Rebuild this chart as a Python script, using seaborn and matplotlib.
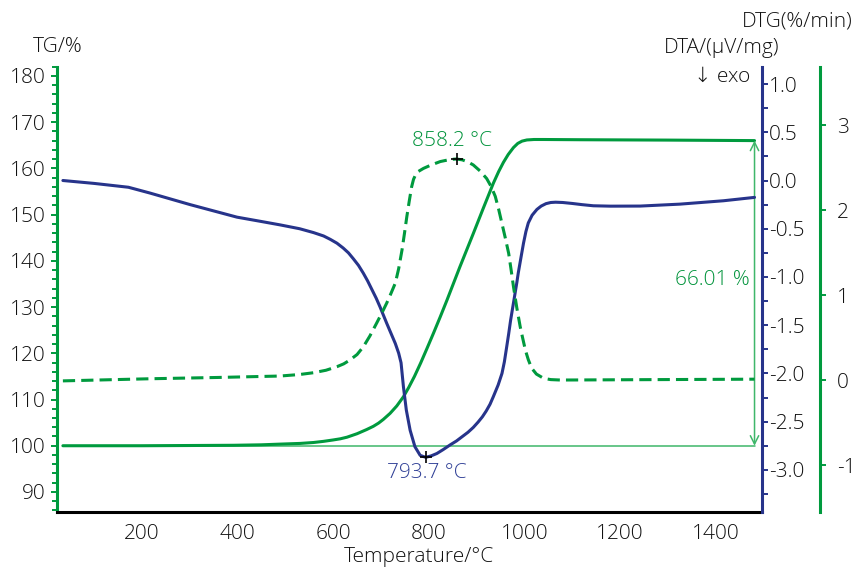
import numpy as np
import pandas as pd
import matplotlib
matplotlib.use("Agg")
import matplotlib.pyplot as plt
from matplotlib.ticker import MultipleLocator, FixedLocator, FormatStrFormatter
import seaborn as sns

# ---- measured curves -------------------------------------------------------
# TG (mass, %)
tg_temp = [35, 200, 300, 392, 450, 489, 531, 559, 580, 600, 615, 629, 650, 670,
           684, 695, 705, 719, 733, 747, 758, 770, 783, 796, 810, 824, 838, 865,
           893, 914, 935, 946, 956, 966, 977, 986, 995, 1005, 1020, 1040, 1116,
           1300, 1481]
tg_val = [100.0, 100.0, 100.05, 100.1, 100.2, 100.35, 100.5, 100.7, 100.95,
          101.25, 101.5, 101.85, 102.6, 103.5, 104.2, 104.9, 105.7, 107.0, 108.6,
          110.6, 112.6, 115.0, 117.9, 121.0, 124.4, 127.9, 131.5, 138.7, 145.9,
          151.4, 156.8, 159.3, 161.3, 163.0, 164.5, 165.4, 165.9, 166.15, 166.25,
          166.25, 166.2, 166.12, 166.01]

# DTA (µV/mg)
dta_temp = [35, 100, 172, 217, 301, 399, 450, 489, 530, 559, 580, 594, 608, 621,
            632, 642, 653, 663, 672, 681, 690, 698, 705, 712, 721, 730, 737, 742,
            747, 753, 761, 771, 782, 793.7, 805, 817, 830, 845, 858, 870, 882,
            893, 903, 912, 920, 928, 935, 945, 953, 958, 963, 967, 971, 976, 980,
            984, 987, 993, 998, 1003, 1008, 1016, 1026, 1035, 1045, 1055, 1065,
            1080, 1100, 1120, 1144, 1180, 1242, 1325, 1416, 1481]
dta_val = [0.00, -0.03, -0.07, -0.13, -0.25, -0.38, -0.425, -0.46, -0.50, -0.54,
           -0.575, -0.61, -0.65, -0.70, -0.75, -0.81, -0.88, -0.96, -1.04, -1.13,
           -1.22, -1.31, -1.395, -1.48, -1.585, -1.69, -1.79, -1.89, -2.14, -2.38,
           -2.59, -2.76, -2.85, -2.87, -2.855, -2.83, -2.79, -2.74, -2.70, -2.655,
           -2.61, -2.56, -2.505, -2.45, -2.39, -2.32, -2.24, -2.12, -2.00, -1.88,
           -1.72, -1.59, -1.45, -1.30, -1.18, -1.06, -0.96, -0.79, -0.65, -0.53,
           -0.44, -0.36, -0.30, -0.265, -0.24, -0.228, -0.225, -0.228, -0.238,
           -0.25, -0.262, -0.266, -0.265, -0.245, -0.21, -0.175]

# DTG (%/min)
dtg_temp = [35, 217, 357, 489, 530, 559, 585, 608, 622, 635, 650, 663, 677, 691,
            702, 712, 721, 730, 737, 744, 749, 754, 759, 764, 768, 772, 777, 789,
            805, 824, 845, 858.2, 870, 882, 893, 907, 921, 930, 939, 946, 953,
            960, 967, 972, 977, 984, 991, 996, 1002, 1008, 1015, 1025, 1040, 1055,
            1075, 1481]
dtg_val = [-0.01, 0.015, 0.03, 0.047, 0.065, 0.086, 0.115, 0.157, 0.19, 0.235,
           0.30, 0.39, 0.52, 0.67, 0.79, 0.905, 1.02, 1.14, 1.31, 1.53, 1.72, 1.92,
           2.10, 2.27, 2.36, 2.41, 2.45, 2.49, 2.53, 2.57, 2.595, 2.60, 2.59,
           2.565, 2.53, 2.46, 2.37, 2.28, 2.16, 2.01, 1.84, 1.67, 1.49, 1.30, 1.10,
           0.85, 0.63, 0.50, 0.35, 0.24, 0.14, 0.07, 0.02, 0.005, 0.0, 0.01]

dta_peak = (793.7, -2.87)
dtg_peak = (858.2, 2.60)
tg_start, tg_end = 100.0, 166.01
step_temp = 1481

# ---- style -------------------------------------------------------------------
sns.set_style("white")
plt.rcParams["font.family"] = ["Open Sans", "DejaVu Sans"]
plt.rcParams["font.weight"] = "light"
plt.rcParams["axes.unicode_minus"] = False

GREEN = "#009a3e"
TEXT_GREEN = "#00933b"
LIGHT_GREEN = "#3fb76a"
BLUE = "#27348b"
LABEL_BLUE = "#2f3f96"
TEXT = "#111111"
FS = 15

fig = plt.figure(figsize=(8.6, 5.71), dpi=100)
ax = fig.add_axes([0.0659, 0.1028, 0.8198, 0.7804])
ax_dta = ax.twinx()
ax_dtg = ax.twinx()

tg_df = pd.DataFrame({"T": tg_temp, "TG": tg_val})
dta_df = pd.DataFrame({"T": dta_temp, "DTA": dta_val})
dtg_df = pd.DataFrame({"T": dtg_temp, "DTG": dtg_val})

line_kw = dict(estimator=None, lw=2.2, solid_joinstyle="round",
               solid_capstyle="round")

# TG baseline and step
ax.plot([tg_temp[0], step_temp], [tg_start, tg_start], color=LIGHT_GREEN, lw=1.1,
        zorder=1)
sns.lineplot(data=tg_df, x="T", y="TG", ax=ax, color=GREEN, zorder=2, **line_kw)
ax.annotate("", xy=(step_temp, tg_end), xytext=(step_temp, tg_start),
            arrowprops=dict(arrowstyle="<->,head_length=0.6,head_width=0.3",
                            color=LIGHT_GREEN, lw=1.1, shrinkA=0, shrinkB=0))
ax.text(1472, 135.8, f"{tg_end - tg_start:.2f} %", color=TEXT_GREEN, fontsize=FS,
        ha="right", va="center")

sns.lineplot(data=dta_df, x="T", y="DTA", ax=ax_dta, color=BLUE, **line_kw)
ax_dta.plot(*dta_peak, marker="+", color="black", ms=9, mew=1.2)
ax_dta.annotate(f"{dta_peak[0]:.1f} °C", xy=dta_peak, xytext=(1, -11),
                textcoords="offset points", ha="center", va="center",
                color=LABEL_BLUE, fontsize=FS)

sns.lineplot(data=dtg_df, x="T", y="DTG", ax=ax_dtg, color=GREEN, lw=2.2,
             estimator=None, linestyle=(0, (4, 2)), dash_joinstyle="round")
ax_dtg.plot(*dtg_peak, marker="+", color="black", ms=9, mew=1.2)
ax_dtg.annotate(f"{dtg_peak[0]:.1f} °C", xy=dtg_peak, xytext=(-3, 13),
                textcoords="offset points", ha="center", va="center",
                color=TEXT_GREEN, fontsize=FS)

# ---- axes --------------------------------------------------------------------
ax.set_xlim(22, 1496)
ax.set_ylim(85.6, 182.0)
ax_dta.set_ylim(-3.44, 1.18)
ax_dtg.set_ylim(-1.556, 3.686)

for a in (ax, ax_dta, ax_dtg):
    a.set_xlabel("")
    a.set_ylabel("")
    for s in a.spines.values():
        s.set_visible(False)

ax.spines["left"].set_visible(True)
ax.spines["left"].set_color(GREEN)
ax.spines["left"].set_linewidth(2.2)
ax.spines["bottom"].set_visible(True)
ax.spines["bottom"].set_color("black")
ax.spines["bottom"].set_linewidth(2.2)

ax_dta.spines["right"].set_visible(True)
ax_dta.spines["right"].set_color(BLUE)
ax_dta.spines["right"].set_linewidth(2.2)

ax_dtg.spines["right"].set_visible(True)
ax_dtg.spines["right"].set_position(("axes", 1.0827))
ax_dtg.spines["right"].set_color(GREEN)
ax_dtg.spines["right"].set_linewidth(2.2)

ax.xaxis.set_major_locator(FixedLocator(range(200, 1401, 200)))
ax.xaxis.set_minor_locator(FixedLocator(range(100, 1401, 200)))
ax.tick_params(axis="x", which="major", direction="out", length=4.5, width=1.4,
               color="black", labelsize=FS, labelcolor=TEXT, pad=4)
ax.tick_params(axis="x", which="minor", direction="out", length=3, width=1.4,
               color="black")

ax.yaxis.set_major_locator(FixedLocator(range(90, 181, 10)))
ax.yaxis.set_minor_locator(MultipleLocator(2))
ax.tick_params(axis="y", which="major", direction="out", length=4, width=1.4,
               color=GREEN, labelsize=FS, labelcolor=TEXT, pad=4)
ax.tick_params(axis="y", which="minor", direction="out", length=3.5, width=1.4,
               color=GREEN)

ax_dta.yaxis.set_major_locator(FixedLocator(np.arange(-3.0, 1.01, 0.5)))
ax_dta.yaxis.set_minor_locator(MultipleLocator(0.25))
ax_dta.yaxis.set_major_formatter(FormatStrFormatter("%.1f"))
ax_dta.tick_params(axis="y", which="major", direction="out", length=4, width=1.4,
                   color=BLUE, labelsize=FS, labelcolor=TEXT, pad=1)
ax_dta.tick_params(axis="y", which="minor", direction="out", length=4, width=1.4,
                   color=BLUE)

ax_dtg.yaxis.set_major_locator(FixedLocator([-1, 0, 1, 2, 3]))
ax_dtg.tick_params(axis="y", which="major", direction="out", length=4, width=1.4,
                   color=GREEN, labelsize=FS, labelcolor=TEXT, pad=8)
ax_dtg.tick_params(axis="y", which="minor", length=0)

ax.tick_params(axis="x", which="both", top=False)
for a in (ax_dta, ax_dtg):
    a.tick_params(axis="x", which="both", bottom=False, top=False,
                  labelbottom=False)

# ---- axis titles -------------------------------------------------------------
fig.text(0.0674, 0.9177, "TG/%", ha="center", va="center", fontsize=FS, color=TEXT)
fig.text(0.9919, 0.9615, "DTG(%/min)", ha="right", va="center", fontsize=FS,
         color=TEXT)
fig.text(0.8395, 0.9159, "DTA/(µV/mg)", ha="center", va="center", fontsize=FS,
         color=TEXT)
fig.text(0.8721, 0.8651, "↓ exo", ha="right", va="center", fontsize=FS,
         color=TEXT)
fig.text(0.4866, 0.0245, "Temperature/°C", ha="center", va="center", fontsize=FS,
         color=TEXT)

fig.savefig("out.png", dpi=100)
